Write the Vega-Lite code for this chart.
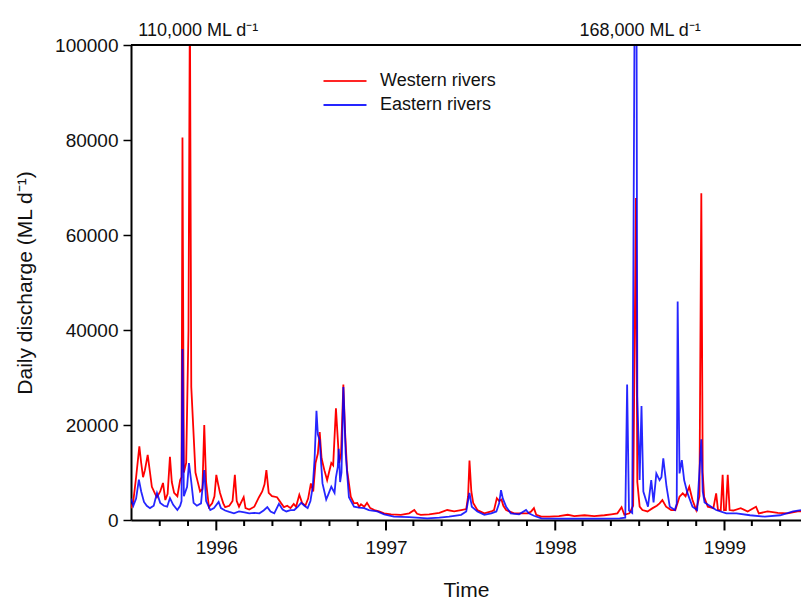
{
  "$schema": "https://vega.github.io/schema/vega-lite/v6.json",
  "width": 670,
  "height": 475,
  "autosize": "none",
  "padding": {"left": 131, "top": 45, "right": 0, "bottom": 79},
  "background": "white",
  "config": {
    "view": {"stroke": null},
    "font": "Liberation Sans",
    "axis": {
      "labelFont": "Liberation Sans",
      "titleFont": "Liberation Sans",
      "labelFontSize": 19,
      "titleFontSize": 21,
      "titleFontWeight": "normal",
      "labelColor": "#111",
      "titleColor": "#111",
      "domainColor": "#000",
      "domainWidth": 2,
      "tickColor": "#000",
      "grid": false
    }
  },
  "datasets": {
    "flow": [
      {"date": "1995-07-01", "series": "Western rivers", "q": 2500},
      {"date": "1995-07-06", "series": "Western rivers", "q": 4000},
      {"date": "1995-07-12", "series": "Western rivers", "q": 9000},
      {"date": "1995-07-19", "series": "Western rivers", "q": 15500},
      {"date": "1995-07-23", "series": "Western rivers", "q": 12000},
      {"date": "1995-07-27", "series": "Western rivers", "q": 9000},
      {"date": "1995-07-31", "series": "Western rivers", "q": 10500},
      {"date": "1995-08-06", "series": "Western rivers", "q": 13700},
      {"date": "1995-08-11", "series": "Western rivers", "q": 10000},
      {"date": "1995-08-15", "series": "Western rivers", "q": 7000},
      {"date": "1995-08-22", "series": "Western rivers", "q": 5500},
      {"date": "1995-08-26", "series": "Western rivers", "q": 4800},
      {"date": "1995-09-02", "series": "Western rivers", "q": 6000},
      {"date": "1995-09-08", "series": "Western rivers", "q": 7800},
      {"date": "1995-09-13", "series": "Western rivers", "q": 4200},
      {"date": "1995-09-18", "series": "Western rivers", "q": 5500},
      {"date": "1995-09-23", "series": "Western rivers", "q": 13300},
      {"date": "1995-09-27", "series": "Western rivers", "q": 8000},
      {"date": "1995-10-02", "series": "Western rivers", "q": 5700},
      {"date": "1995-10-09", "series": "Western rivers", "q": 5000},
      {"date": "1995-10-15", "series": "Western rivers", "q": 8400},
      {"date": "1995-10-18", "series": "Western rivers", "q": 9000},
      {"date": "1995-10-20", "series": "Western rivers", "q": 80500},
      {"date": "1995-10-23", "series": "Western rivers", "q": 10000},
      {"date": "1995-10-28", "series": "Western rivers", "q": 12000},
      {"date": "1995-11-02", "series": "Western rivers", "q": 40000},
      {"date": "1995-11-05", "series": "Western rivers", "q": 110000},
      {"date": "1995-11-08", "series": "Western rivers", "q": 28000},
      {"date": "1995-11-11", "series": "Western rivers", "q": 22000},
      {"date": "1995-11-14", "series": "Western rivers", "q": 16000},
      {"date": "1995-11-17", "series": "Western rivers", "q": 10000},
      {"date": "1995-11-21", "series": "Western rivers", "q": 8400},
      {"date": "1995-11-27", "series": "Western rivers", "q": 6000},
      {"date": "1995-12-02", "series": "Western rivers", "q": 6500},
      {"date": "1995-12-06", "series": "Western rivers", "q": 20000},
      {"date": "1995-12-10", "series": "Western rivers", "q": 8000},
      {"date": "1995-12-16", "series": "Western rivers", "q": 2700},
      {"date": "1995-12-23", "series": "Western rivers", "q": 3500},
      {"date": "1995-12-28", "series": "Western rivers", "q": 5000},
      {"date": "1996-01-01", "series": "Western rivers", "q": 9500},
      {"date": "1996-01-05", "series": "Western rivers", "q": 7500},
      {"date": "1996-01-09", "series": "Western rivers", "q": 5700},
      {"date": "1996-01-16", "series": "Western rivers", "q": 3500},
      {"date": "1996-01-20", "series": "Western rivers", "q": 2700},
      {"date": "1996-01-29", "series": "Western rivers", "q": 3000},
      {"date": "1996-02-05", "series": "Western rivers", "q": 4000},
      {"date": "1996-02-10", "series": "Western rivers", "q": 9500},
      {"date": "1996-02-14", "series": "Western rivers", "q": 4000},
      {"date": "1996-02-19", "series": "Western rivers", "q": 2800},
      {"date": "1996-02-29", "series": "Western rivers", "q": 4800},
      {"date": "1996-03-04", "series": "Western rivers", "q": 2500},
      {"date": "1996-03-12", "series": "Western rivers", "q": 2200},
      {"date": "1996-03-23", "series": "Western rivers", "q": 2800},
      {"date": "1996-04-02", "series": "Western rivers", "q": 4800},
      {"date": "1996-04-09", "series": "Western rivers", "q": 6000},
      {"date": "1996-04-14", "series": "Western rivers", "q": 7500},
      {"date": "1996-04-18", "series": "Western rivers", "q": 10500},
      {"date": "1996-04-23", "series": "Western rivers", "q": 5700},
      {"date": "1996-04-30", "series": "Western rivers", "q": 5000},
      {"date": "1996-05-11", "series": "Western rivers", "q": 4800},
      {"date": "1996-05-20", "series": "Western rivers", "q": 3500},
      {"date": "1996-05-26", "series": "Western rivers", "q": 2700},
      {"date": "1996-06-02", "series": "Western rivers", "q": 3000},
      {"date": "1996-06-09", "series": "Western rivers", "q": 2500},
      {"date": "1996-06-16", "series": "Western rivers", "q": 3400},
      {"date": "1996-06-21", "series": "Western rivers", "q": 2800},
      {"date": "1996-06-28", "series": "Western rivers", "q": 5300},
      {"date": "1996-07-04", "series": "Western rivers", "q": 3600},
      {"date": "1996-07-11", "series": "Western rivers", "q": 3000},
      {"date": "1996-07-17", "series": "Western rivers", "q": 4500},
      {"date": "1996-07-23", "series": "Western rivers", "q": 7700},
      {"date": "1996-07-28", "series": "Western rivers", "q": 6000},
      {"date": "1996-08-02", "series": "Western rivers", "q": 12000},
      {"date": "1996-08-07", "series": "Western rivers", "q": 14000},
      {"date": "1996-08-11", "series": "Western rivers", "q": 18500},
      {"date": "1996-08-15", "series": "Western rivers", "q": 13000},
      {"date": "1996-08-21", "series": "Western rivers", "q": 10500},
      {"date": "1996-08-27", "series": "Western rivers", "q": 8400},
      {"date": "1996-08-31", "series": "Western rivers", "q": 10000},
      {"date": "1996-09-05", "series": "Western rivers", "q": 12000},
      {"date": "1996-09-09", "series": "Western rivers", "q": 11500},
      {"date": "1996-09-15", "series": "Western rivers", "q": 23500},
      {"date": "1996-09-19", "series": "Western rivers", "q": 17000},
      {"date": "1996-09-22", "series": "Western rivers", "q": 12000},
      {"date": "1996-09-26", "series": "Western rivers", "q": 14000},
      {"date": "1996-10-01", "series": "Western rivers", "q": 28500},
      {"date": "1996-10-05", "series": "Western rivers", "q": 18000},
      {"date": "1996-10-09", "series": "Western rivers", "q": 10500},
      {"date": "1996-10-17", "series": "Western rivers", "q": 4900},
      {"date": "1996-10-24", "series": "Western rivers", "q": 3500},
      {"date": "1996-10-31", "series": "Western rivers", "q": 3600},
      {"date": "1996-11-04", "series": "Western rivers", "q": 2800},
      {"date": "1996-11-08", "series": "Western rivers", "q": 3300},
      {"date": "1996-11-15", "series": "Western rivers", "q": 2800},
      {"date": "1996-11-21", "series": "Western rivers", "q": 3600},
      {"date": "1996-11-28", "series": "Western rivers", "q": 2500},
      {"date": "1996-12-07", "series": "Western rivers", "q": 2100},
      {"date": "1996-12-17", "series": "Western rivers", "q": 1800},
      {"date": "1996-12-28", "series": "Western rivers", "q": 1400},
      {"date": "1997-01-12", "series": "Western rivers", "q": 1200},
      {"date": "1997-02-02", "series": "Western rivers", "q": 1100},
      {"date": "1997-02-20", "series": "Western rivers", "q": 1400},
      {"date": "1997-03-03", "series": "Western rivers", "q": 2100},
      {"date": "1997-03-09", "series": "Western rivers", "q": 1300},
      {"date": "1997-03-17", "series": "Western rivers", "q": 1100},
      {"date": "1997-04-04", "series": "Western rivers", "q": 1200},
      {"date": "1997-04-26", "series": "Western rivers", "q": 1500},
      {"date": "1997-05-13", "series": "Western rivers", "q": 2100},
      {"date": "1997-05-28", "series": "Western rivers", "q": 1800},
      {"date": "1997-06-12", "series": "Western rivers", "q": 2100},
      {"date": "1997-06-23", "series": "Western rivers", "q": 2300},
      {"date": "1997-06-27", "series": "Western rivers", "q": 5000},
      {"date": "1997-06-30", "series": "Western rivers", "q": 12500},
      {"date": "1997-07-04", "series": "Western rivers", "q": 6000},
      {"date": "1997-07-08", "series": "Western rivers", "q": 3600},
      {"date": "1997-07-17", "series": "Western rivers", "q": 2100},
      {"date": "1997-08-01", "series": "Western rivers", "q": 1400},
      {"date": "1997-08-16", "series": "Western rivers", "q": 1800},
      {"date": "1997-08-22", "series": "Western rivers", "q": 2100},
      {"date": "1997-08-28", "series": "Western rivers", "q": 4600},
      {"date": "1997-09-02", "series": "Western rivers", "q": 4000},
      {"date": "1997-09-07", "series": "Western rivers", "q": 4300},
      {"date": "1997-09-11", "series": "Western rivers", "q": 3000},
      {"date": "1997-09-17", "series": "Western rivers", "q": 2100},
      {"date": "1997-10-04", "series": "Western rivers", "q": 1400},
      {"date": "1997-10-19", "series": "Western rivers", "q": 1400},
      {"date": "1997-11-03", "series": "Western rivers", "q": 1400},
      {"date": "1997-11-10", "series": "Western rivers", "q": 1800},
      {"date": "1997-11-16", "series": "Western rivers", "q": 2500},
      {"date": "1997-11-21", "series": "Western rivers", "q": 1100},
      {"date": "1997-12-02", "series": "Western rivers", "q": 700},
      {"date": "1997-12-19", "series": "Western rivers", "q": 700},
      {"date": "1998-01-09", "series": "Western rivers", "q": 800},
      {"date": "1998-01-28", "series": "Western rivers", "q": 1100},
      {"date": "1998-02-11", "series": "Western rivers", "q": 800},
      {"date": "1998-03-05", "series": "Western rivers", "q": 1000},
      {"date": "1998-03-26", "series": "Western rivers", "q": 800},
      {"date": "1998-04-17", "series": "Western rivers", "q": 1000},
      {"date": "1998-05-02", "series": "Western rivers", "q": 1200},
      {"date": "1998-05-15", "series": "Western rivers", "q": 1400},
      {"date": "1998-05-24", "series": "Western rivers", "q": 2700},
      {"date": "1998-05-30", "series": "Western rivers", "q": 1100},
      {"date": "1998-06-10", "series": "Western rivers", "q": 1400},
      {"date": "1998-06-18", "series": "Western rivers", "q": 3000},
      {"date": "1998-06-24", "series": "Western rivers", "q": 67800},
      {"date": "1998-06-27", "series": "Western rivers", "q": 8000},
      {"date": "1998-07-02", "series": "Western rivers", "q": 2800},
      {"date": "1998-07-08", "series": "Western rivers", "q": 2100},
      {"date": "1998-07-19", "series": "Western rivers", "q": 1800},
      {"date": "1998-07-30", "series": "Western rivers", "q": 2500},
      {"date": "1998-08-08", "series": "Western rivers", "q": 3000},
      {"date": "1998-08-14", "series": "Western rivers", "q": 3500},
      {"date": "1998-08-20", "series": "Western rivers", "q": 4200},
      {"date": "1998-08-28", "series": "Western rivers", "q": 2800},
      {"date": "1998-09-08", "series": "Western rivers", "q": 2100},
      {"date": "1998-09-17", "series": "Western rivers", "q": 2100},
      {"date": "1998-09-26", "series": "Western rivers", "q": 4900},
      {"date": "1998-10-03", "series": "Western rivers", "q": 5600},
      {"date": "1998-10-09", "series": "Western rivers", "q": 5000},
      {"date": "1998-10-17", "series": "Western rivers", "q": 7000},
      {"date": "1998-10-24", "series": "Western rivers", "q": 4200},
      {"date": "1998-11-01", "series": "Western rivers", "q": 2100},
      {"date": "1998-11-08", "series": "Western rivers", "q": 5000},
      {"date": "1998-11-12", "series": "Western rivers", "q": 68800},
      {"date": "1998-11-15", "series": "Western rivers", "q": 10000},
      {"date": "1998-11-18", "series": "Western rivers", "q": 4900},
      {"date": "1998-11-26", "series": "Western rivers", "q": 2800},
      {"date": "1998-12-08", "series": "Western rivers", "q": 2500},
      {"date": "1998-12-14", "series": "Western rivers", "q": 5600},
      {"date": "1998-12-18", "series": "Western rivers", "q": 2100},
      {"date": "1998-12-24", "series": "Western rivers", "q": 2100},
      {"date": "1998-12-28", "series": "Western rivers", "q": 9500},
      {"date": "1998-12-31", "series": "Western rivers", "q": 2100},
      {"date": "1999-01-04", "series": "Western rivers", "q": 2100},
      {"date": "1999-01-08", "series": "Western rivers", "q": 9500},
      {"date": "1999-01-12", "series": "Western rivers", "q": 2100},
      {"date": "1999-01-20", "series": "Western rivers", "q": 2000},
      {"date": "1999-02-05", "series": "Western rivers", "q": 2500},
      {"date": "1999-02-20", "series": "Western rivers", "q": 1800},
      {"date": "1999-03-10", "series": "Western rivers", "q": 2800},
      {"date": "1999-03-16", "series": "Western rivers", "q": 1400},
      {"date": "1999-04-04", "series": "Western rivers", "q": 1800},
      {"date": "1999-04-26", "series": "Western rivers", "q": 1500},
      {"date": "1999-05-17", "series": "Western rivers", "q": 1400},
      {"date": "1999-06-08", "series": "Western rivers", "q": 1800},
      {"date": "1999-06-15", "series": "Western rivers", "q": 1800},

      {"date": "1995-07-01", "series": "Eastern rivers", "q": 4500},
      {"date": "1995-07-06", "series": "Eastern rivers", "q": 3000},
      {"date": "1995-07-12", "series": "Eastern rivers", "q": 4500},
      {"date": "1995-07-18", "series": "Eastern rivers", "q": 8500},
      {"date": "1995-07-23", "series": "Eastern rivers", "q": 6000},
      {"date": "1995-07-29", "series": "Eastern rivers", "q": 3800},
      {"date": "1995-08-04", "series": "Eastern rivers", "q": 3000},
      {"date": "1995-08-11", "series": "Eastern rivers", "q": 2500},
      {"date": "1995-08-19", "series": "Eastern rivers", "q": 3000},
      {"date": "1995-08-26", "series": "Eastern rivers", "q": 5700},
      {"date": "1995-09-02", "series": "Eastern rivers", "q": 3600},
      {"date": "1995-09-10", "series": "Eastern rivers", "q": 3000},
      {"date": "1995-09-17", "series": "Eastern rivers", "q": 2800},
      {"date": "1995-09-23", "series": "Eastern rivers", "q": 4600},
      {"date": "1995-09-30", "series": "Eastern rivers", "q": 3200},
      {"date": "1995-10-09", "series": "Eastern rivers", "q": 2100},
      {"date": "1995-10-15", "series": "Eastern rivers", "q": 3000},
      {"date": "1995-10-18", "series": "Eastern rivers", "q": 4000},
      {"date": "1995-10-20", "series": "Eastern rivers", "q": 36000},
      {"date": "1995-10-23", "series": "Eastern rivers", "q": 5000},
      {"date": "1995-10-30", "series": "Eastern rivers", "q": 7000},
      {"date": "1995-11-03", "series": "Eastern rivers", "q": 12000},
      {"date": "1995-11-08", "series": "Eastern rivers", "q": 8000},
      {"date": "1995-11-13", "series": "Eastern rivers", "q": 3600},
      {"date": "1995-11-20", "series": "Eastern rivers", "q": 3000},
      {"date": "1995-11-29", "series": "Eastern rivers", "q": 3500},
      {"date": "1995-12-06", "series": "Eastern rivers", "q": 10500},
      {"date": "1995-12-10", "series": "Eastern rivers", "q": 4000},
      {"date": "1995-12-19", "series": "Eastern rivers", "q": 2100},
      {"date": "1995-12-27", "series": "Eastern rivers", "q": 2500},
      {"date": "1996-01-06", "series": "Eastern rivers", "q": 3800},
      {"date": "1996-01-11", "series": "Eastern rivers", "q": 2500},
      {"date": "1996-01-20", "series": "Eastern rivers", "q": 2000},
      {"date": "1996-01-29", "series": "Eastern rivers", "q": 1700},
      {"date": "1996-02-08", "series": "Eastern rivers", "q": 1400},
      {"date": "1996-02-19", "series": "Eastern rivers", "q": 1800},
      {"date": "1996-03-02", "series": "Eastern rivers", "q": 1600},
      {"date": "1996-03-12", "series": "Eastern rivers", "q": 1400},
      {"date": "1996-03-23", "series": "Eastern rivers", "q": 1500},
      {"date": "1996-04-03", "series": "Eastern rivers", "q": 1400},
      {"date": "1996-04-12", "series": "Eastern rivers", "q": 2000},
      {"date": "1996-04-20", "series": "Eastern rivers", "q": 2700},
      {"date": "1996-04-27", "series": "Eastern rivers", "q": 1800},
      {"date": "1996-05-05", "series": "Eastern rivers", "q": 1400},
      {"date": "1996-05-15", "series": "Eastern rivers", "q": 3400},
      {"date": "1996-05-23", "series": "Eastern rivers", "q": 2200},
      {"date": "1996-05-31", "series": "Eastern rivers", "q": 1800},
      {"date": "1996-06-09", "series": "Eastern rivers", "q": 2100},
      {"date": "1996-06-17", "series": "Eastern rivers", "q": 2100},
      {"date": "1996-06-25", "series": "Eastern rivers", "q": 2800},
      {"date": "1996-07-02", "series": "Eastern rivers", "q": 3600},
      {"date": "1996-07-09", "series": "Eastern rivers", "q": 3000},
      {"date": "1996-07-16", "series": "Eastern rivers", "q": 2500},
      {"date": "1996-07-22", "series": "Eastern rivers", "q": 4000},
      {"date": "1996-07-27", "series": "Eastern rivers", "q": 7000},
      {"date": "1996-07-31", "series": "Eastern rivers", "q": 13000},
      {"date": "1996-08-04", "series": "Eastern rivers", "q": 23000},
      {"date": "1996-08-07", "series": "Eastern rivers", "q": 18000},
      {"date": "1996-08-11", "series": "Eastern rivers", "q": 16800},
      {"date": "1996-08-14", "series": "Eastern rivers", "q": 12000},
      {"date": "1996-08-17", "series": "Eastern rivers", "q": 7700},
      {"date": "1996-08-25", "series": "Eastern rivers", "q": 4300},
      {"date": "1996-08-30", "series": "Eastern rivers", "q": 5500},
      {"date": "1996-09-05", "series": "Eastern rivers", "q": 7000},
      {"date": "1996-09-12", "series": "Eastern rivers", "q": 5700},
      {"date": "1996-09-15", "series": "Eastern rivers", "q": 9000},
      {"date": "1996-09-19", "series": "Eastern rivers", "q": 11200},
      {"date": "1996-09-21", "series": "Eastern rivers", "q": 15000},
      {"date": "1996-09-24", "series": "Eastern rivers", "q": 8000},
      {"date": "1996-09-27", "series": "Eastern rivers", "q": 10000},
      {"date": "1996-10-01", "series": "Eastern rivers", "q": 28000},
      {"date": "1996-10-06", "series": "Eastern rivers", "q": 14000},
      {"date": "1996-10-13", "series": "Eastern rivers", "q": 4800},
      {"date": "1996-10-24", "series": "Eastern rivers", "q": 2800},
      {"date": "1996-11-04", "series": "Eastern rivers", "q": 2600},
      {"date": "1996-11-15", "series": "Eastern rivers", "q": 2500},
      {"date": "1996-11-25", "series": "Eastern rivers", "q": 2100},
      {"date": "1996-12-13", "series": "Eastern rivers", "q": 1800},
      {"date": "1996-12-28", "series": "Eastern rivers", "q": 1200},
      {"date": "1997-01-18", "series": "Eastern rivers", "q": 700},
      {"date": "1997-02-20", "series": "Eastern rivers", "q": 600},
      {"date": "1997-03-31", "series": "Eastern rivers", "q": 350},
      {"date": "1997-04-26", "series": "Eastern rivers", "q": 500},
      {"date": "1997-05-17", "series": "Eastern rivers", "q": 700},
      {"date": "1997-06-12", "series": "Eastern rivers", "q": 1100},
      {"date": "1997-06-23", "series": "Eastern rivers", "q": 1800},
      {"date": "1997-06-30", "series": "Eastern rivers", "q": 5700},
      {"date": "1997-07-05", "series": "Eastern rivers", "q": 2800},
      {"date": "1997-07-17", "series": "Eastern rivers", "q": 1800},
      {"date": "1997-08-01", "series": "Eastern rivers", "q": 1100},
      {"date": "1997-08-16", "series": "Eastern rivers", "q": 1400},
      {"date": "1997-08-27", "series": "Eastern rivers", "q": 1800},
      {"date": "1997-09-02", "series": "Eastern rivers", "q": 3500},
      {"date": "1997-09-06", "series": "Eastern rivers", "q": 6300},
      {"date": "1997-09-10", "series": "Eastern rivers", "q": 4500},
      {"date": "1997-09-17", "series": "Eastern rivers", "q": 2800},
      {"date": "1997-09-27", "series": "Eastern rivers", "q": 1400},
      {"date": "1997-10-15", "series": "Eastern rivers", "q": 1200},
      {"date": "1997-10-30", "series": "Eastern rivers", "q": 2100},
      {"date": "1997-11-05", "series": "Eastern rivers", "q": 1400},
      {"date": "1997-11-16", "series": "Eastern rivers", "q": 900},
      {"date": "1997-12-02", "series": "Eastern rivers", "q": 350},
      {"date": "1998-01-09", "series": "Eastern rivers", "q": 300},
      {"date": "1998-02-21", "series": "Eastern rivers", "q": 300},
      {"date": "1998-04-06", "series": "Eastern rivers", "q": 300},
      {"date": "1998-05-20", "series": "Eastern rivers", "q": 350},
      {"date": "1998-06-01", "series": "Eastern rivers", "q": 500},
      {"date": "1998-06-05", "series": "Eastern rivers", "q": 28500},
      {"date": "1998-06-09", "series": "Eastern rivers", "q": 2000},
      {"date": "1998-06-16", "series": "Eastern rivers", "q": 1500},
      {"date": "1998-06-24", "series": "Eastern rivers", "q": 168000},
      {"date": "1998-06-27", "series": "Eastern rivers", "q": 26000},
      {"date": "1998-07-02", "series": "Eastern rivers", "q": 8400},
      {"date": "1998-07-06", "series": "Eastern rivers", "q": 24000},
      {"date": "1998-07-10", "series": "Eastern rivers", "q": 6000},
      {"date": "1998-07-20", "series": "Eastern rivers", "q": 2800},
      {"date": "1998-07-27", "series": "Eastern rivers", "q": 8400},
      {"date": "1998-08-01", "series": "Eastern rivers", "q": 3700},
      {"date": "1998-08-07", "series": "Eastern rivers", "q": 9800},
      {"date": "1998-08-14", "series": "Eastern rivers", "q": 8400},
      {"date": "1998-08-18", "series": "Eastern rivers", "q": 9000},
      {"date": "1998-08-22", "series": "Eastern rivers", "q": 13000},
      {"date": "1998-08-29", "series": "Eastern rivers", "q": 7000},
      {"date": "1998-09-05", "series": "Eastern rivers", "q": 2800},
      {"date": "1998-09-16", "series": "Eastern rivers", "q": 2100},
      {"date": "1998-09-20", "series": "Eastern rivers", "q": 3500},
      {"date": "1998-09-22", "series": "Eastern rivers", "q": 46000},
      {"date": "1998-09-26", "series": "Eastern rivers", "q": 9800},
      {"date": "1998-10-01", "series": "Eastern rivers", "q": 12600},
      {"date": "1998-10-06", "series": "Eastern rivers", "q": 8400},
      {"date": "1998-10-13", "series": "Eastern rivers", "q": 5700},
      {"date": "1998-10-24", "series": "Eastern rivers", "q": 2800},
      {"date": "1998-11-03", "series": "Eastern rivers", "q": 2100},
      {"date": "1998-11-12", "series": "Eastern rivers", "q": 17000},
      {"date": "1998-11-15", "series": "Eastern rivers", "q": 6000},
      {"date": "1998-11-19", "series": "Eastern rivers", "q": 3700},
      {"date": "1998-11-30", "series": "Eastern rivers", "q": 3000},
      {"date": "1998-12-14", "series": "Eastern rivers", "q": 2100},
      {"date": "1999-01-05", "series": "Eastern rivers", "q": 1400},
      {"date": "1999-01-27", "series": "Eastern rivers", "q": 1400},
      {"date": "1999-02-25", "series": "Eastern rivers", "q": 1000},
      {"date": "1999-03-29", "series": "Eastern rivers", "q": 700},
      {"date": "1999-05-01", "series": "Eastern rivers", "q": 1000},
      {"date": "1999-05-29", "series": "Eastern rivers", "q": 1800},
      {"date": "1999-06-15", "series": "Eastern rivers", "q": 2100}
    ],
    "notes": [
      {"date": "1995-11-23", "label": "110,000 ML d⁻¹"},
      {"date": "1998-07-03", "label": "168,000 ML d⁻¹"}
    ],
    "ticks": [
      {"date": "1995-09-01", "kind": "minor"},
      {"date": "1995-11-01", "kind": "minor"},
      {"date": "1996-01-01", "kind": "major"},
      {"date": "1996-03-01", "kind": "minor"},
      {"date": "1996-05-01", "kind": "minor"},
      {"date": "1996-07-01", "kind": "minor"},
      {"date": "1996-09-01", "kind": "minor"},
      {"date": "1996-11-01", "kind": "minor"},
      {"date": "1997-01-01", "kind": "major"},
      {"date": "1997-03-01", "kind": "minor"},
      {"date": "1997-05-01", "kind": "minor"},
      {"date": "1997-07-01", "kind": "minor"},
      {"date": "1997-09-01", "kind": "minor"},
      {"date": "1997-11-01", "kind": "minor"},
      {"date": "1998-01-01", "kind": "major"},
      {"date": "1998-03-01", "kind": "minor"},
      {"date": "1998-05-01", "kind": "minor"},
      {"date": "1998-07-01", "kind": "minor"},
      {"date": "1998-09-01", "kind": "minor"},
      {"date": "1998-11-01", "kind": "minor"},
      {"date": "1999-01-01", "kind": "major"},
      {"date": "1999-03-01", "kind": "minor"},
      {"date": "1999-05-01", "kind": "minor"}
    ]
  },
  "encoding": {
    "x": {
      "field": "date",
      "type": "temporal",
      "scale": {
        "type": "utc",
        "domain": [
          {"year": 1995, "month": 7, "date": 1, "utc": true},
          {"year": 1999, "month": 6, "date": 15, "utc": true}
        ]
      },
      "axis": {
        "title": "Time",
        "values": [
          {"year": 1996, "month": 1, "date": 1, "utc": true},
          {"year": 1997, "month": 1, "date": 1, "utc": true},
          {"year": 1998, "month": 1, "date": 1, "utc": true},
          {"year": 1999, "month": 1, "date": 1, "utc": true}
        ],
        "format": "%Y",
        "ticks": false,
        "labelOverlap": false,
        "labelFlush": false,
        "labelBound": false,
        "labelPadding": 18,
        "titlePadding": 22
      }
    }
  },
  "layer": [
    {
      "data": {"name": "ticks"},
      "transform": [{"filter": "datum.kind === 'minor'"}],
      "mark": {"type": "rule", "color": "#000", "strokeWidth": 2},
      "encoding": {
        "y": {"datum": 0, "type": "quantitative"},
        "y2": {"datum": -1260}
      }
    },
    {
      "data": {"name": "ticks"},
      "transform": [{"filter": "datum.kind === 'major'"}],
      "mark": {"type": "rule", "color": "#000", "strokeWidth": 2},
      "encoding": {
        "y": {"datum": 0, "type": "quantitative"},
        "y2": {"datum": -2200}
      }
    },
    {
      "data": {"name": "flow"},
      "transform": [{"filter": "datum.series === 'Western rivers'"}],
      "mark": {"type": "line", "clip": true, "strokeWidth": 1.8},
      "encoding": {
        "y": {
          "field": "q",
          "type": "quantitative",
          "scale": {"domain": [0, 100000], "nice": false, "zero": false},
          "axis": {
            "values": [0, 20000, 40000, 60000, 80000, 100000],
            "format": "d",
            "title": "Daily discharge (ML d⁻¹)",
            "tickSize": 8,
            "tickWidth": 1.5,
            "labelPadding": 5,
            "titlePadding": 19
          }
        },
        "color": {
          "field": "series",
          "type": "nominal",
          "scale": {"domain": ["Western rivers", "Eastern rivers"], "range": ["#ff0000", "#0000ff"]},
          "legend": {
            "orient": "none",
            "legendX": 202,
            "legendY": 24,
            "title": null,
            "symbolType": "M-2,0H2",
            "symbolSize": 462,
            "symbolStrokeWidth": 2,
            "labelFontSize": 18,
            "labelFont": "Liberation Sans",
            "labelColor": "#111",
            "labelOffset": 23,
            "rowPadding": 3,
            "padding": 0
          }
        }
      }
    },
    {
      "data": {"name": "flow"},
      "transform": [{"filter": "datum.series === 'Eastern rivers'"}],
      "mark": {"type": "line", "clip": true, "strokeWidth": 1.8, "opacity": 0.85},
      "encoding": {
        "y": {"field": "q", "type": "quantitative"},
        "color": {"field": "series", "type": "nominal"}
      }
    },
    {
      "data": {"name": "notes"},
      "mark": {"type": "rule", "color": "#000", "strokeWidth": 2},
      "encoding": {
        "x": null,
        "y": {"datum": 100000, "type": "quantitative"}
      }
    },
    {
      "data": {"name": "notes"},
      "mark": {"type": "text", "baseline": "bottom", "dy": -5, "fontSize": 18, "font": "Liberation Sans", "color": "#111"},
      "encoding": {
        "y": {"datum": 100000, "type": "quantitative"},
        "text": {"field": "label"}
      }
    }
  ]
}
